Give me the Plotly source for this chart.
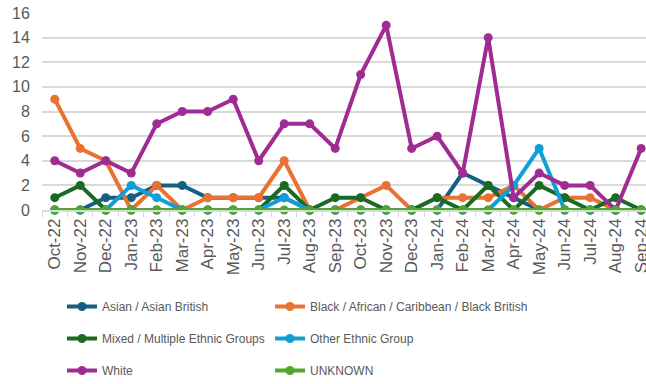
import plotly.graph_objects as go

months = ["Oct-22", "Nov-22", "Dec-22", "Jan-23", "Feb-23", "Mar-23", "Apr-23", "May-23",
          "Jun-23", "Jul-23", "Aug-23", "Sep-23", "Oct-23", "Nov-23", "Dec-23", "Jan-24",
          "Feb-24", "Mar-24", "Apr-24", "May-24", "Jun-24", "Jul-24", "Aug-24", "Sep-24"]

asian = [0, 0, 1, 1, 2, 2, 1, 1, 1, 1, 0, 0, 0, 0, 0, 0, 3, 2, 1, 0, 0, 0, 0, 0]
black = [9, 5, 4, 0, 2, 0, 1, 1, 1, 4, 0, 0, 1, 2, 0, 1, 1, 1, 2, 0, 1, 1, 0, 0]
mixed = [1, 2, 0, 0, 0, 0, 0, 0, 0, 2, 0, 1, 1, 0, 0, 1, 0, 2, 0, 2, 1, 0, 1, 0]
other = [0, 0, 0, 2, 1, 0, 0, 0, 0, 1, 0, 0, 0, 0, 0, 0, 0, 0, 2, 5, 0, 0, 0, 0]
white = [4, 3, 4, 3, 7, 8, 8, 9, 4, 7, 7, 5, 11, 15, 5, 6, 3, 14, 1, 3, 2, 2, 0, 5]
unknown = [0] * 24

# (name, values, colour, legend column)
series = [
    ("Asian / Asian British", asian, "#156082", "legend"),
    ("Black / African / Caribbean / Black British", black, "#E97132", "legend2"),
    ("Mixed / Multiple Ethnic Groups", mixed, "#196B24", "legend"),
    ("Other Ethnic Group", other, "#0F9ED5", "legend2"),
    ("White", white, "#A02B93", "legend"),
    ("UNKNOWN", unknown, "#4EA72E", "legend2"),
]

fig = go.Figure()
for name, vals, color, leg in series:
    fig.add_trace(go.Scatter(
        x=months, y=vals, name=name, mode="lines+markers",
        line=dict(color=color, width=4),
        marker=dict(color=color, size=9),
        cliponaxis=False, legend=leg, legendgroup=name,
    ))

W, H = 646, 384
legend_font = dict(family="Liberation Sans Narrow, Arial Narrow, Liberation Sans, sans-serif",
                   size=12, color="#595959")


def legend_col(x_px, top_px):
    return dict(orientation="v", xref="container", yref="container",
                x=x_px / W, y=1 - top_px / H, xanchor="left", yanchor="top",
                font=legend_font, bgcolor="rgba(0,0,0,0)", itemwidth=30,
                tracegroupgap=13)


fig.update_layout(
    width=W, height=H,
    margin=dict(l=42, r=0, t=13, b=174, autoexpand=False),
    paper_bgcolor="white", plot_bgcolor="white",
    font=dict(family="Liberation Sans, Arial, sans-serif", color="#595959"),
    showlegend=True,
    legend=legend_col(62, 292),
    legend2=legend_col(270, 292),
    xaxis=dict(
        type="category", range=[-0.5, 23.19],
        tickson="boundaries", ticks="outside", ticklen=5, tickcolor="#d9d9d9",
        showline=True, linecolor="#d9d9d9", linewidth=1.5,
        showgrid=False, tickangle=-90,
        tickfont=dict(size=17, color="#595959"),
    ),
    yaxis=dict(
        range=[0, 16], dtick=2, showgrid=True, gridcolor="#d9d9d9", gridwidth=1.5,
        zeroline=False, showline=False,
        ticks="outside", ticklen=8, tickcolor="rgba(0,0,0,0)",
        tickfont=dict(size=16, color="#595959"),
    ),
)

fig.write_html("out.html")
